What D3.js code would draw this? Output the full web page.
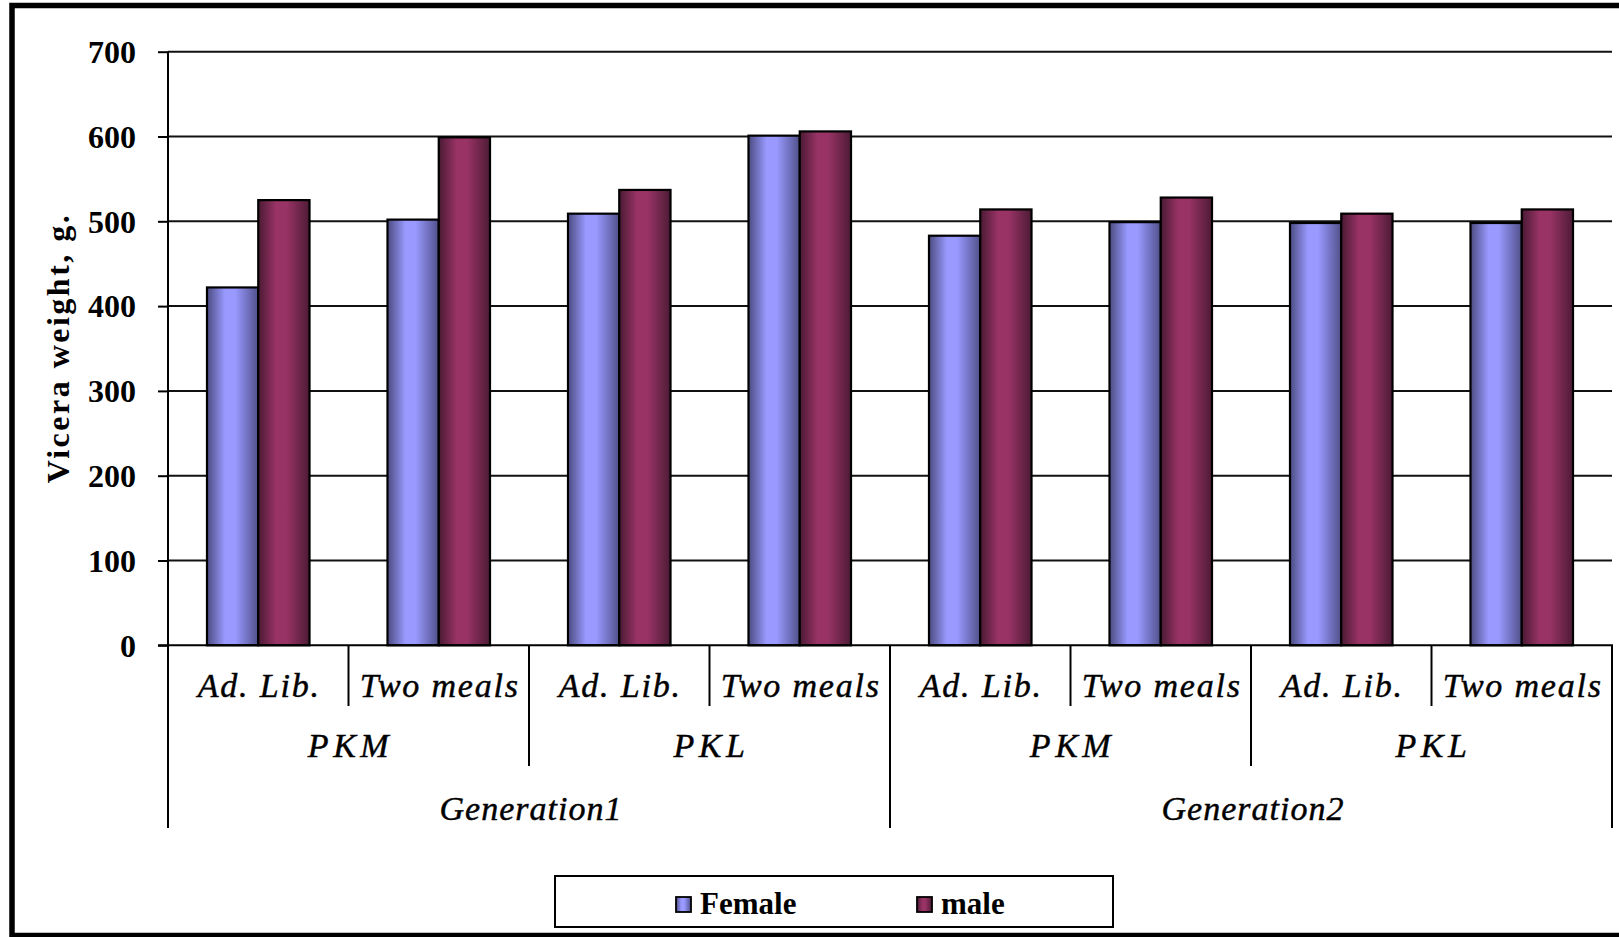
<!DOCTYPE html>
<html>
<head>
<meta charset="utf-8">
<script src="https://cdn.jsdelivr.net/npm/d3@7"></script>
<style>
  html, body { margin: 0; padding: 0; background: #fff; }
  svg { display: block; }
  text { font-family: "Liberation Serif", "Times New Roman", serif; fill: #000; }
</style>
</head>
<body>
<svg id="chart" width="1619" height="937"></svg>
<script>
// Diet regime within each breed
const regimes = ["Ad. Lib.", "Two meals", "Ad. Lib.", "Two meals", "Ad. Lib.", "Two meals", "Ad. Lib.", "Two meals"];
// Breed labels (each spans two regimes)
const breeds = ["PKM", "PKL", "PKM", "PKL"];
// Generation labels (each spans four regimes)
const generations = ["Generation1", "Generation2"];
// Series
const seriesNames = ["Female", "male"];
const femaleValues = [422, 502, 509, 601, 483, 499, 498, 498];
const maleValues = [525, 599, 537, 606, 514, 528, 509, 514];
const yTicks = [0, 100, 200, 300, 400, 500, 600, 700];

const svg = d3.select("#chart");
const font = '"Liberation Serif", "Times New Roman", serif';

// Plot frame
const plotLeft = 168, plotRight = 1612, plotTop = 51.7, plotBottom = 645.3;
const catIdx = d3.range(regimes.length);

const x0 = d3.scaleBand().domain(catIdx).range([plotLeft, plotRight]).padding(0);
const step = x0.bandwidth();
const x1 = d3.scaleBand().domain(seriesNames).range([step * 0.216, step * 0.784]).padding(0);
const y = d3.scaleLinear().domain([0, 700]).range([plotBottom, plotTop]);

// Gradients for the shaded bars
const defs = svg.append("defs");
function shade(id, edgeL, mid, edgeR) {
  const g = defs.append("linearGradient").attr("id", id).attr("x1", 0).attr("x2", 1).attr("y1", 0).attr("y2", 0);
  g.append("stop").attr("offset", "0%").attr("stop-color", edgeL);
  g.append("stop").attr("offset", "35%").attr("stop-color", mid);
  g.append("stop").attr("offset", "55%").attr("stop-color", mid);
  g.append("stop").attr("offset", "100%").attr("stop-color", edgeR);
}
shade("gFemale", "#4b4b80", "#9999ff", "#50508a");
shade("gMale", "#4a1a33", "#993366", "#4d1b35");
const fills = { Female: "url(#gFemale)", male: "url(#gMale)" };

// Outer frame
svg.append("rect")
  .attr("x", 12).attr("y", 5.5).attr("width", 1700).attr("height", 930)
  .attr("fill", "#fff").attr("stroke", "#000").attr("stroke-width", 5.5);

// Gridlines
svg.append("g").selectAll("line")
  .data(yTicks.filter(d => d > 0))
  .join("line")
  .attr("x1", plotLeft).attr("x2", plotRight)
  .attr("y1", d => y(d)).attr("y2", d => y(d))
  .attr("stroke", "#111").attr("stroke-width", 2);

// Y axis with tick labels
const yAxis = svg.append("g")
  .attr("transform", `translate(${plotLeft},0)`)
  .call(d3.axisLeft(y).tickValues(yTicks).tickSizeInner(10).tickSizeOuter(0).tickPadding(22));
yAxis.select(".domain").remove();
yAxis.selectAll(".tick line").attr("stroke", "#000").attr("stroke-width", 2);
yAxis.selectAll(".tick text")
  .attr("font-family", font).attr("font-size", 32).attr("font-weight", "bold")
  .attr("dy", "0.34em").attr("fill", "#000");

// Y axis title
svg.append("text")
  .attr("transform", `translate(69,348) rotate(-90)`)
  .attr("text-anchor", "middle")
  .attr("font-size", 32).attr("font-weight", "bold")
  .attr("letter-spacing", 2.5)
  .text("Vicera weight, g.");

// Bars
const groups = svg.append("g").selectAll("g")
  .data(catIdx)
  .join("g")
  .attr("transform", i => `translate(${x0(i)},0)`);
groups.selectAll("rect")
  .data(i => [
    { key: "Female", value: femaleValues[i] },
    { key: "male", value: maleValues[i] }
  ])
  .join("rect")
  .attr("x", d => x1(d.key))
  .attr("width", x1.bandwidth())
  .attr("y", d => y(d.value))
  .attr("height", d => y(0) - y(d.value))
  .attr("fill", d => fills[d.key])
  .attr("stroke", "#000").attr("stroke-width", 2.2);

// Axes lines: vertical axis and baseline
svg.append("line")
  .attr("x1", plotLeft).attr("x2", plotLeft).attr("y1", plotTop).attr("y2", 828)
  .attr("stroke", "#000").attr("stroke-width", 2);
svg.append("line")
  .attr("x1", plotLeft - 10).attr("x2", plotRight + 1).attr("y1", y(0)).attr("y2", y(0))
  .attr("stroke", "#000").attr("stroke-width", 2);

// Category separators (three levels)
const seps = d3.range(regimes.length + 1).map(k => ({
  k,
  len: k % 4 === 0 ? 828 : (k % 2 === 0 ? 766 : 706)
}));
svg.append("g").selectAll("line")
  .data(seps.filter(s => s.k > 0))
  .join("line")
  .attr("x1", s => s.k === regimes.length ? plotRight : x0(s.k))
  .attr("x2", s => s.k === regimes.length ? plotRight : x0(s.k))
  .attr("y1", y(0)).attr("y2", s => s.len)
  .attr("stroke", "#000").attr("stroke-width", 2);

// Shared style for the italic category labels
function italicLabel(sel, size, spacing) {
  sel.attr("text-anchor", "middle")
    .attr("font-size", size).attr("font-style", "italic")
    .attr("letter-spacing", spacing)
    .attr("stroke", "#000").attr("stroke-width", 0.45);
}

// Level 1 labels
svg.append("g").selectAll("text")
  .data(regimes)
  .join("text")
  .attr("x", (d, i) => x0(i) + step / 2 + 1)
  .attr("y", 697)
  .call(italicLabel, 34, 1.8)
  .text(d => d);

// Level 2 labels
svg.append("g").selectAll("text")
  .data(breeds)
  .join("text")
  .attr("x", (d, i) => x0(i * 2) + step + 2)
  .attr("y", 757)
  .call(italicLabel, 34, 4.5)
  .text(d => d);

// Level 3 labels
svg.append("g").selectAll("text")
  .data(generations)
  .join("text")
  .attr("x", (d, i) => x0(i * 4) + step * 2 + 2)
  .attr("y", 820)
  .call(italicLabel, 34, 1)
  .text(d => d);

// Legend
const legend = svg.append("g");
legend.append("rect")
  .attr("x", 555).attr("y", 876).attr("width", 558).attr("height", 51)
  .attr("fill", "#fff").attr("stroke", "#000").attr("stroke-width", 2);
const legendX = { Female: 676, male: 917 };
const items = legend.selectAll("g.item")
  .data(seriesNames)
  .join("g").attr("class", "item")
  .attr("transform", d => `translate(${legendX[d]},897)`);
items.append("rect")
  .attr("width", 15).attr("height", 15)
  .attr("fill", d => fills[d])
  .attr("stroke", "#000").attr("stroke-width", 1.8);
items.append("text")
  .attr("x", 24).attr("y", 17)
  .attr("font-size", 31).attr("font-weight", "bold")
  .text(d => d);
</script>
</body>
</html>
